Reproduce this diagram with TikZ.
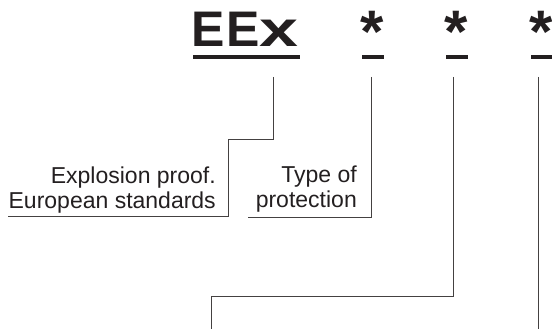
\documentclass[tikz,border=0pt]{standalone}
\usepackage{fontspec}
\usepackage{graphicx}
\setmainfont{Liberation Sans}
\definecolor{ink}{HTML}{231F20}
\begin{document}
\begin{tikzpicture}[x=1pt,y=-1pt,
  lead/.style={draw=ink!85, line width=0.9pt},
  bar/.style={draw=ink, line width=3.3pt},
  big/.style={inner sep=0pt, text=ink, font=\fontsize{50}{50}\selectfont\bfseries},
  star/.style={inner sep=0pt, text=ink, font=\fontsize{60}{60}\selectfont\bfseries, anchor=base},
  label/.style={inner sep=0pt, text=ink, align=right, font=\fontsize{23}{25}\selectfont}]
\useasboundingbox (0,0) rectangle (552,329);
% title
\node[big, anchor=base west] (eex) at (191.5,47) {E\kern1.5pt E\scalebox{1.4}[1]{x}};
\node[star] (s1) at (372.5,53) {*};
\node[star] (s2) at (456.5,53) {*};
\node[star] (s3) at (541.5,53) {*};
\draw[bar] (193,57) -- (300,57);
\draw[bar] (362,57) -- (384,57);
\draw[bar] (446,57) -- (468,57);
\draw[bar] (531,57) -- (553,57);
% labels
\node[label, anchor=base east] (eu) at (216,208) {Explosion proof.\\European standards};
\node[label, anchor=base east] (tp) at (357,207) {Type of\\protection};
% connector start points
\coordinate (c0) at (273,77);
\coordinate (c1) at (371,77);
\coordinate (c2) at (453,77);
\coordinate (c3) at (538,77);
\coordinate (k0) at (228,139);
\coordinate (e0) at (8,216);
\coordinate (e1) at (248,217);
\coordinate (k2) at (211,296);
\coordinate (e2) at (211,329.5);
\coordinate (e3) at (538,329.5);
\draw[lead] (c0) |- (k0) |- (e0);
\draw[lead] (c1) |- (e1);
\draw[lead] (c2) |- (k2) -- (e2);
\draw[lead] (c3) -- (e3);
\end{tikzpicture}
\end{document}
